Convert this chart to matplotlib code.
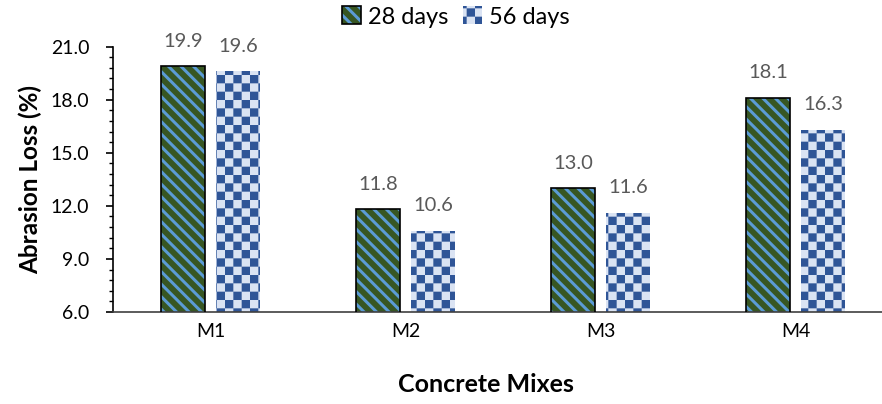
import warnings
import numpy as np
import matplotlib
matplotlib.use("Agg")
import matplotlib.pyplot as plt
import matplotlib.hatch as mhatch
from matplotlib.path import Path
from matplotlib.ticker import MultipleLocator, FormatStrFormatter
import matplotlib.patches as mpatches
from matplotlib.legend_handler import HandlerTuple

warnings.filterwarnings("ignore")

# ---------------- data ----------------
mixes = ["M1", "M2", "M3", "M4"]
days28 = [19.9, 11.8, 13.0, 18.1]
days56 = [19.6, 10.6, 11.6, 16.3]
series_names = ["28 days", "56 days"]

# ---------------- custom filled hatch patterns ----------------
class _Checker(mhatch.HatchPatternBase):
    """Checkerboard of filled squares (char 'c')."""
    def __init__(self, hatch, density):
        self.n = 12 if "c" in hatch else 0
        self.num_vertices = (self.n * self.n // 2) * 5 if self.n else 0

    def set_vertices_and_codes(self, vertices, codes):
        n = self.n
        s = 1.0 / n
        k = 0
        for i in range(n):
            for j in range(n):
                if (i + j) % 2 == 0:
                    x, y = i * s, j * s
                    vertices[k:k + 5] = [(x, y), (x + s, y), (x + s, y + s), (x, y + s), (x, y)]
                    codes[k:k + 5] = [Path.MOVETO, Path.LINETO, Path.LINETO, Path.LINETO, Path.CLOSEPOLY]
                    k += 5


class _Stripes(mhatch.HatchPatternBase):
    """Filled downward diagonal bands (char 'd')."""
    def __init__(self, hatch, density):
        self.k = 8 if "d" in hatch else 0
        self.frac = 0.34
        self.nb = 2 * self.k + 2 if self.k else 0
        self.num_vertices = self.nb * 5

    def set_vertices_and_codes(self, vertices, codes):
        k = self.k
        wb = self.frac / k
        idx = 0
        for j in range(-1, 2 * k + 1):
            a = j / k
            vertices[idx:idx + 5] = [(-1.5, a + 1.5), (2.5, a - 2.5), (2.5, a - 2.5 + wb),
                                     (-1.5, a + 1.5 + wb), (-1.5, a + 1.5)]
            codes[idx:idx + 5] = [Path.MOVETO, Path.LINETO, Path.LINETO, Path.LINETO, Path.CLOSEPOLY]
            idx += 5


mhatch._hatch_types.append(_Checker)
mhatch._hatch_types.append(_Stripes)

# ---------------- style ----------------
plt.rcParams["font.family"] = ["Lato", "DejaVu Sans"]
plt.rcParams["hatch.linewidth"] = 0.0

GREEN = "#375623"
STRIPE = "#5B9BD5"
CHK_DARK = "#2F5597"
CHK_LIGHT = "#DAE3F3"
LABEL_GRAY = "#595959"

fig = plt.figure(figsize=(8.82, 4.04), dpi=100)
ax = fig.add_axes([0.1281, 0.2277, 0.8844, 0.657])

x = np.arange(len(mixes))
w = 0.228
off = 0.142

ax.bar(x - off, days28, w, facecolor=GREEN, edgecolor=STRIPE,
       linewidth=0, hatch="d", zorder=2)
ax.bar(x - off, days28, w, facecolor="none", edgecolor="black", linewidth=1.2, zorder=3)
ax.bar(x + off, days56, w, facecolor=CHK_LIGHT, edgecolor=CHK_DARK,
       linewidth=0, hatch="c", zorder=2)

for xi, v in zip(x - off, days28):
    ax.annotate(f"{v:.1f}", (xi, v), xytext=(0, 14), textcoords="offset points",
                ha="center", va="baseline", fontsize=14.5, color=LABEL_GRAY)
for xi, v in zip(x + off, days56):
    ax.annotate(f"{v:.1f}", (xi, v), xytext=(0, 14), textcoords="offset points",
                ha="center", va="baseline", fontsize=14.5, color=LABEL_GRAY)

ax.set_xlim(-0.5, 3.5)
ax.set_ylim(6, 21)
ax.yaxis.set_major_locator(MultipleLocator(3))
ax.yaxis.set_minor_locator(MultipleLocator(0.6))
ax.yaxis.set_major_formatter(FormatStrFormatter("%.1f"))
ax.set_xticks(x)
ax.set_xticklabels(mixes)

for s in ["top", "right"]:
    ax.spines[s].set_visible(False)
ax.spines["left"].set_linewidth(1.2)
ax.spines["bottom"].set_linewidth(1.2)
ax.spines["left"].set_color("black")
ax.spines["bottom"].set_color("#404040")

ax.tick_params(axis="y", which="major", length=5, width=1.2, pad=12, labelsize=14)
ax.tick_params(axis="y", which="minor", length=3, width=1.0)
ax.tick_params(axis="x", length=0, pad=8, labelsize=14)

ax.set_ylabel("Abrasion Loss (%)", fontsize=17.5, fontweight="bold", va="center")
ax.yaxis.set_label_coords(-0.106, 0.5)

fig.text(486 / 882, 1 - 385 / 404, "Concrete Mixes", ha="center", va="center",
         fontsize=18, fontweight="bold")

h28 = (mpatches.Patch(facecolor=GREEN, edgecolor=STRIPE, linewidth=0, hatch="d"),
       mpatches.Patch(facecolor="none", edgecolor="black", linewidth=1.2))
h56 = mpatches.Patch(facecolor=CHK_LIGHT, edgecolor=CHK_DARK, linewidth=0, hatch="c")
fig.legend([h28, h56], series_names, loc="center", bbox_to_anchor=(0.517, 0.958),
           ncol=2, frameon=False, fontsize=17, handlelength=0.8, handleheight=0.8,
           columnspacing=0.6, handletextpad=0.3,
           handler_map={tuple: HandlerTuple(ndivide=1)})

fig.savefig("out.png", dpi=100)
